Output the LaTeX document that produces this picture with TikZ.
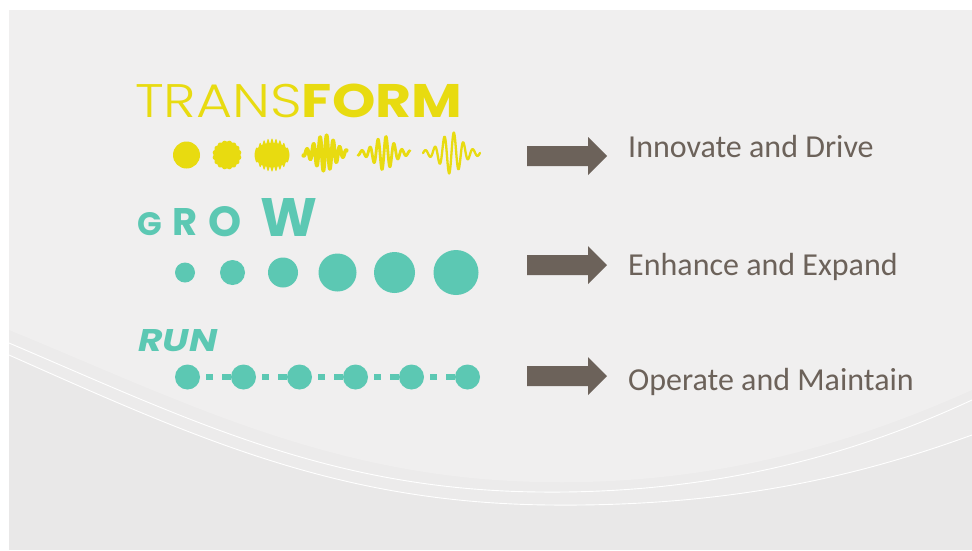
\documentclass[tikz,border=0pt]{standalone}
\usepackage{fontspec}
\usepackage{graphicx}
\setmainfont{Carlito}
\newfontfamily\popfont{Poppins}
\newfontfamily\poplight{Poppins Light}
\usetikzlibrary{calc}

\begin{document}
\begin{tikzpicture}[x=1pt,y=-1pt,
  growdot/.style={circle,inner sep=0,fill=gr_teal},
  rundot/.style={circle,inner sep=0,fill=gr_teal,minimum size=25},
  runlink/.style={gr_teal,line width=6,dash pattern=on 0pt off 6pt on 7pt off 9pt on 9pt},
  wave/.style={gr_yellow,line join=round,line cap=round},
  txtlbl/.style={anchor=base west,inner sep=0,text=gr_brown,font=\fontsize{32}{36}\selectfont},
  heading/.style={anchor=base west,inner sep=0}]
% ------------------------------------------------ slide colors
\definecolor{gr_yellow}{RGB}{232,219,16}  %#E8DB10
\definecolor{gr_teal}{RGB}{92,200,179}    %#5CC8B3
\definecolor{gr_brown}{RGB}{108,98,90}    %#6C625A
\definecolor{bg_upper}{RGB}{240,239,239}
\definecolor{bg_band}{RGB}{236,235,235}
\definecolor{bg_lower}{RGB}{233,232,232}

\newcommand{\bigarrow}[1]{% Syntax: {y of the arrow's axis}
  \fill[gr_brown] (527,#1-10) -- (588,#1-10) -- (588,#1-19) -- (607,#1)
     -- (588,#1+19) -- (588,#1+10) -- (527,#1+10) -- cycle;
}

\useasboundingbox (0,0) rectangle (972,550);
% ------------------------------------------------ background and swoosh
\fill[white] (0,0) rectangle (972,550);
\fill[bg_lower] (9,10) rectangle (972,550);
\fill[bg_band] (9,10) -- (9,355) .. controls (200,440) and (340,503) .. (550,505)
   .. controls (740,507) and (870,472) .. (972,435) -- (972,10) -- cycle;
\fill[bg_upper] (9,10) -- (9,330) .. controls (180,400) and (330,478) .. (540,482)
   .. controls (720,486) and (860,440) .. (972,390) -- (972,10) -- cycle;
\draw[white,line width=0.9] (9,343) .. controls (190,420) and (330,490) .. (540,492)
   .. controls (720,494) and (860,452) .. (972,400);
\draw[white,line width=0.9] (9,355) .. controls (200,440) and (340,503) .. (550,505)
   .. controls (740,507) and (870,472) .. (972,435);

% ------------------------------------------------ TRANSFORM
\node[heading,text=gr_yellow] (ttl_transform) at (135,117)
  {\resizebox{327pt}{33.5pt}{\poplight TRANS\popfont\bfseries FORM}};
\fill[gr_yellow] (186.5,155) circle (13.5);
\fill[gr_yellow] plot[domain=0:360,samples=145,variable=\t]
  ({227+(13.2+1.3*abs(sin(8*\t)))*cos(\t)},{155+(13.2+1.3*abs(sin(8*\t)))*sin(\t)}) -- cycle;
\fill[gr_yellow] plot[domain=-17.5:17.5,samples=141]
  ({272+\x},{155-16.5*sqrt(max(0,1-(\x/17.5)^2))*(0.86+0.14*cos(\x*90))})
  -- plot[domain=17.5:-17.5,samples=141]
  ({272+\x},{155+16.5*sqrt(max(0,1-(\x/17.5)^2))*(0.86+0.14*cos(\x*90))}) -- cycle;
\draw[wave,line width=3.6] plot[domain=-22:22,samples=221,smooth]
  ({325+\x},{153-18*(0.1+0.9*exp(-(\x/13)^2))*sin(\x*55)});
\draw[wave,line width=2.8] plot[domain=-26:26,samples=221,smooth]
  ({384+\x},{153-17*(0.12+0.88*exp(-(\x/12)^2))*sin(\x*45)});
\draw[wave,line width=2.3] plot[domain=-28.5:28.5,samples=221,smooth]
  ({451.5+\x},{153-21*(0.12+0.88*exp(-(\x/13)^2))*sin(\x*38)});

% ------------------------------------------------ GROW
\node[heading,text=gr_teal] (ttl_g) at (137,235) {\popfont\bfseries\resizebox{!}{23pt}{G}};
\node[heading,text=gr_teal] (ttl_r) at (172,235) {\popfont\bfseries\resizebox{!}{27pt}{R}};
\node[heading,text=gr_teal] (ttl_o) at (208,236) {\popfont\bfseries\resizebox{!}{30pt}{O}};
\node[heading,text=gr_teal] (ttl_w) at (260,236) {\popfont\bfseries\resizebox{!}{38pt}{W}};
\foreach \cx/\r [count=\i] in {185/10,232.5/12.5,283/15,337.5/19,394.5/20.5,456/22.5}
  \node[growdot,minimum size={2*\r}] (g\i) at (\cx,272.5) {};

% ------------------------------------------------ RUN
\node[heading,text=gr_teal] (ttl_run) at (138,351)
  {\resizebox{79pt}{22pt}{\popfont\bfseries\itshape RUN}};
\foreach \i in {1,...,6}
  \node[rundot] (r\i) at ({131.5+56*\i},377) {};
\foreach \i [evaluate=\i as \j using int(\i+1)] in {1,...,5}
  \draw[runlink] (r\i) -- (r\j);

% ------------------------------------------------ arrows and labels
\bigarrow{156}
\bigarrow{265}
\bigarrow{376}
\node[txtlbl] (lbl_innovate) at (628,157) {Innovate and Drive};
\node[txtlbl] (lbl_enhance) at (628,275) {Enhance and Expand};
\node[txtlbl] (lbl_operate) at (628,390) {Operate and Maintain};

\end{tikzpicture}
\end{document}
